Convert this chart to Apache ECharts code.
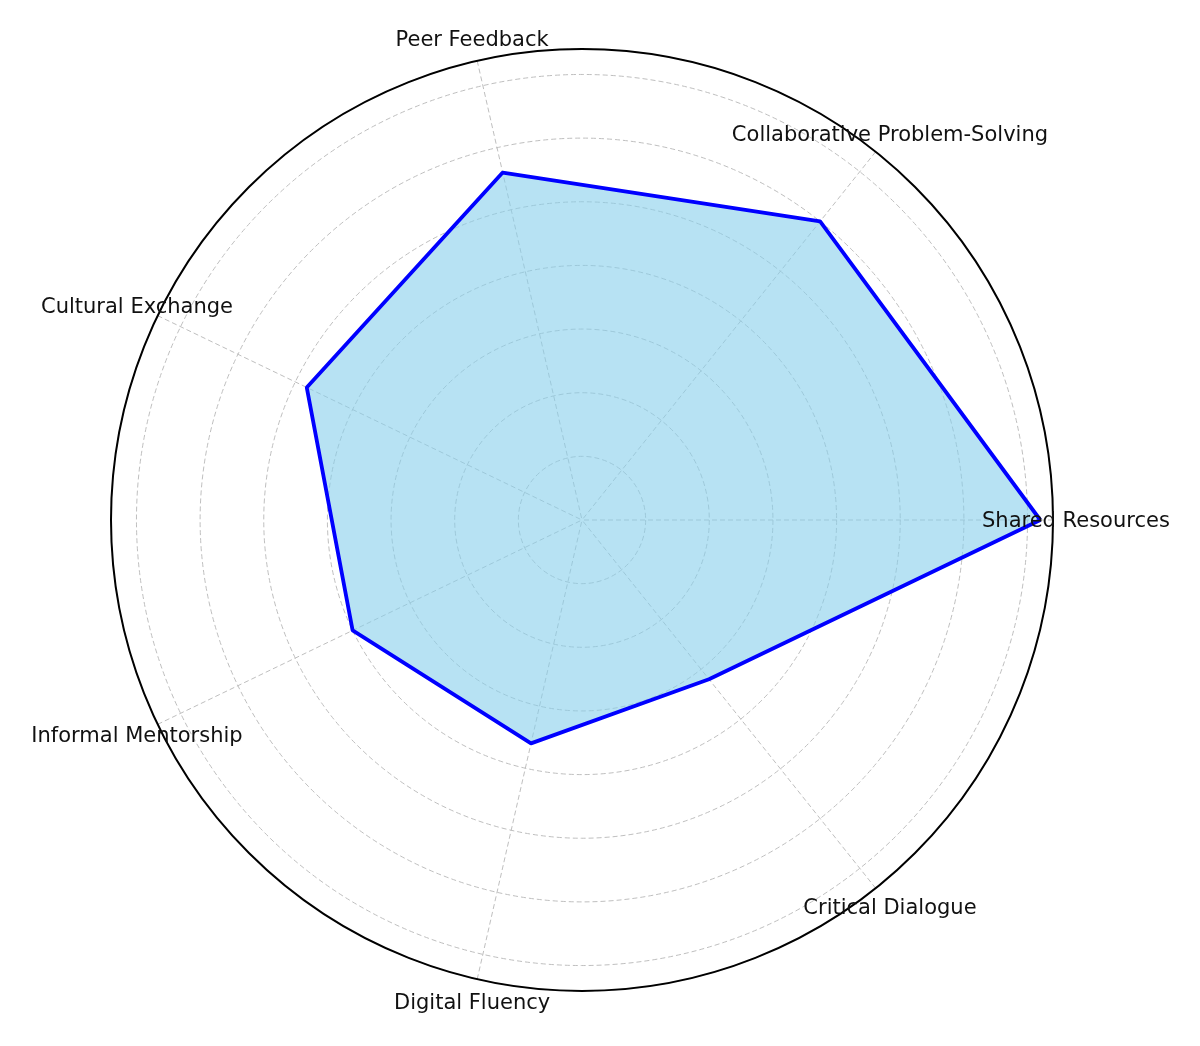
<!DOCTYPE html>
<html>
<head>
<meta charset="utf-8">
<title>Radar</title>
<script src="https://cdn.jsdelivr.net/npm/echarts@6/dist/echarts.min.js"></script>
<style>
  html, body { margin: 0; padding: 0; background: #fff; }
  #main { width: 1200px; height: 1046px; }
</style>
</head>
<body>
<div id="main"></div>
<script>
// categories go counter-clockwise starting from the right (0 deg)
var categories = ['Shared Resources', 'Collaborative Problem-Solving', 'Peer Feedback',
    'Cultural Exchange', 'Informal Mentorship', 'Digital Fluency', 'Critical Dialogue'];
var scores = [90, 75, 70, 60, 50, 45, 40];
var rMax = 92.5;
var rStep = 12.5;

var chart = echarts.init(document.getElementById('main'));

var n = categories.length;
var labelRadius = 97;   // just outside the outer ring, like matplotlib's tick labels

// angle is measured in category steps, 0..n makes the full turn;
// close the polygon by going back to the first point at angle n
var loop = [];
for (var i = 0; i < n; i++) {
    loop.push([scores[i], i]);
}
loop.push([scores[0], n]);

var labelPts = [];
for (var j = 0; j < n; j++) {
    labelPts.push([labelRadius, j]);
}

var gridLine = { color: '#bfbfbf', type: [5, 3], width: 1 };

var option = {
    backgroundColor: '#fff',
    animation: false,
    polar: {
        center: [582, 520],
        radius: 471
    },
    angleAxis: {
        type: 'value',
        min: 0,
        max: n,
        interval: 1,
        startAngle: 0,
        clockwise: false,
        axisLine: { lineStyle: { color: '#000', width: 2 } },
        axisTick: { show: false },
        axisLabel: { show: false },
        splitLine: { show: true, lineStyle: gridLine }
    },
    radiusAxis: {
        type: 'value',
        min: 0,
        max: rMax,
        interval: rStep,
        axisLine: { show: false },
        axisTick: { show: false },
        axisLabel: { show: false },
        splitLine: { show: true, lineStyle: gridLine }
    },
    series: [{
        type: 'line',
        coordinateSystem: 'polar',
        data: loop,
        symbol: 'none',
        lineStyle: { color: '#0000ff', width: 3.8 },
        areaStyle: { color: '#87ceeb', opacity: 0.6 },
        z: 3
    }, {
        // category names, centred on their spoke
        type: 'scatter',
        coordinateSystem: 'polar',
        data: labelPts,
        symbol: 'circle',
        symbolSize: 1,
        clip: false,
        silent: true,
        itemStyle: { color: '#fff', opacity: 0 },
        label: {
            show: true,
            position: 'inside',
            offset: [0, 2],
            align: 'center',
            verticalAlign: 'middle',
            fontSize: 21,
            color: '#111',
            opacity: 1,
            textBorderWidth: 0,
            fontFamily: 'DejaVu Sans',
            formatter: function (p) { return categories[p.dataIndex]; }
        },
        z: 4
    }]
};

chart.setOption(option);
</script>
</body>
</html>
